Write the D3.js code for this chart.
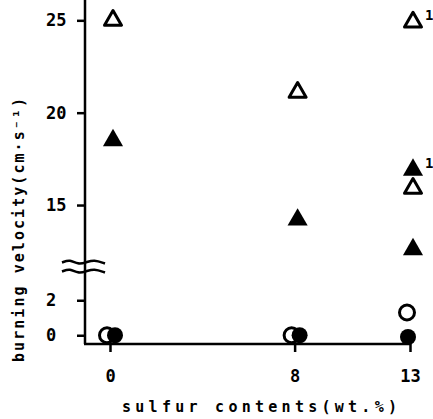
<!DOCTYPE html>
<html>
<head>
<meta charset="utf-8">
<script src="https://cdn.jsdelivr.net/npm/d3@7"></script>
<style>
  body { margin: 0; background: #fff; }
  svg { display: block; font-family: "DejaVu Sans Mono", monospace; font-weight: bold; }
</style>
</head>
<body>
<svg id="chart" width="433" height="419"></svg>
<script>
// values (burning velocity, cm/s)
const sulfurTicks = [0, 8, 13]
const upperTicks = [15, 20, 25]
const lowerTicks = [0, 2]

const openTriangles = [[0, 25], [8, 21.1], [13, 24.9], [13, 15.9]]
const filledTriangles = [[0, 18.5], [8, 14.2], [13, 16.9], [13, 12.6]]
const openCircles = [[0, 0], [8, 0], [13, 1.3]]
const filledCircles = [[0, 0], [8, 0], [13, -0.1]]
const footnoted = [[13, 24.9], [13, 16.9]]

const svg = d3.select('#chart')
const axisX = 85
const FONT = '"DejaVu Sans Mono", monospace'

const x = d3.scaleLinear().domain([0, 13]).range([110, 410])
const yHigh = d3.scaleLinear().domain([11.7, 26.1]).range([266, 0])
const yLow = d3.scaleLinear().domain([-0.5, 3.9]).range([344, 267])
const y = (v) => v > 8 ? yHigh(v) : yLow(v)

const g = svg.append('g')

function styleAxis(sel) {
  sel.attr('font-family', FONT).attr('font-size', 17).attr('font-weight', 'bold')
  sel.select('.domain').remove()
  sel.selectAll('line').attr('stroke', '#000').attr('stroke-width', 2.5)
  sel.selectAll('text').attr('fill', '#000')
}

// y axis: two segments, one continuous line
[[yHigh, upperTicks], [yLow, lowerTicks]].forEach(([scale, ticks]) => {
  g.append('g')
    .attr('transform', `translate(${axisX},0)`)
    .call(d3.axisLeft(scale).tickValues(ticks).tickFormat(d3.format('d')).tickSize(8).tickPadding(0))
    .call(styleAxis)
    .selectAll('text')
    .attr('text-anchor', 'start')
    .attr('x', -39)
})

g.append('line')
  .attr('x1', axisX).attr('x2', axisX)
  .attr('y1', yHigh.range()[1]).attr('y2', yLow.range()[0])
  .attr('stroke', '#000').attr('stroke-width', 2.5)

// x axis
g.append('g')
  .attr('transform', `translate(0,${yLow.range()[0]})`)
  .call(d3.axisBottom(x).tickValues(sulfurTicks).tickFormat(d3.format('d')).tickSize(8).tickPadding(18))
  .call(styleAxis)

g.append('line')
  .attr('x1', axisX - 1).attr('x2', x(13) + 1)
  .attr('y1', yLow.range()[0]).attr('y2', yLow.range()[0])
  .attr('stroke', '#000').attr('stroke-width', 2.5)

// axis break
const breakY = (yHigh.range()[0] + yLow.range()[1]) / 2
const wave = d3.line().curve(d3.curveBasis)
;[-4, 5].forEach((off) => {
  g.append('path')
    .attr('d', wave([[62, breakY + off], [70, breakY + off - 3], [78, breakY + off + 2], [86, breakY + off], [94, breakY + off - 3], [105, breakY + off + 1]]))
    .attr('fill', 'none')
    .attr('stroke', '#000')
    .attr('stroke-width', 2.5)
})

// labels
g.append('text')
  .attr('x', 122).attr('y', 412)
  .attr('font-size', 15)
  .attr('textLength', 275)
  .attr('lengthAdjust', 'spacing')
  .text('sulfur contents(wt.%)')

g.append('text')
  .attr('transform', 'translate(24,362) rotate(-90)')
  .attr('font-size', 15)
  .attr('textLength', 264)
  .attr('lengthAdjust', 'spacing')
  .text('burning velocity(cm·s⁻¹)')

// markers
const tri = (size) => d3.symbol(d3.symbolTriangle, size)()

g.selectAll('.open-circle').data(openCircles).enter()
  .append('circle')
  .attr('class', 'open-circle')
  .attr('cx', (d) => x(d[0]) - 3)
  .attr('cy', (d) => y(d[1]))
  .attr('r', 7.5)
  .attr('fill', '#fff')
  .attr('stroke', '#000')
  .attr('stroke-width', 3)

g.selectAll('.filled-circle').data(filledCircles).enter()
  .append('circle')
  .attr('class', 'filled-circle')
  .attr('cx', (d) => x(d[0]) + (d[0] === 13 ? -2 : 5))
  .attr('cy', (d) => y(d[1]))
  .attr('r', 8)
  .attr('fill', '#000')

g.selectAll('.open-tri').data(openTriangles).enter()
  .append('path')
  .attr('class', 'open-tri')
  .attr('d', tri(125))
  .attr('transform', (d) => `translate(${x(d[0]) + 3},${y(d[1])})`)
  .attr('fill', '#fff')
  .attr('stroke', '#000')
  .attr('stroke-width', 3)
  .attr('stroke-linejoin', 'round')

g.selectAll('.filled-tri').data(filledTriangles).enter()
  .append('path')
  .attr('class', 'filled-tri')
  .attr('d', tri(175))
  .attr('transform', (d) => `translate(${x(d[0]) + 3},${y(d[1])})`)
  .attr('fill', '#000')

g.selectAll('.note').data(footnoted).enter()
  .append('text')
  .attr('class', 'note')
  .attr('x', (d) => x(d[0]) + 15)
  .attr('y', (d) => y(d[1]) - 2)
  .attr('font-size', 14)
  .text('1')
</script>
</body>
</html>
